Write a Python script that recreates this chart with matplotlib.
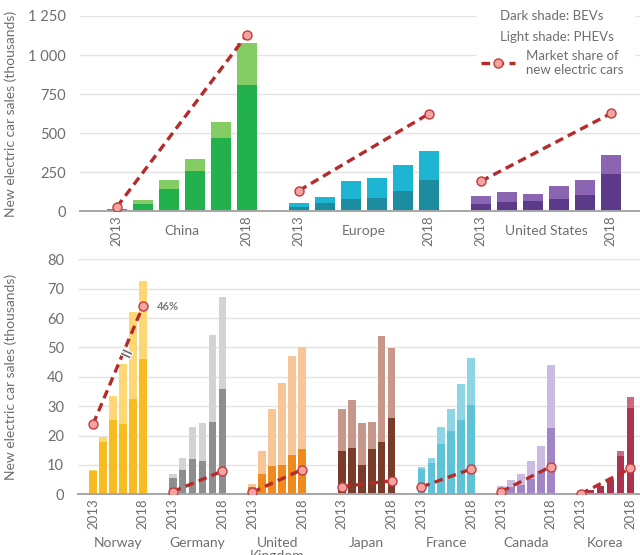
import matplotlib
matplotlib.use("Agg")
import matplotlib.pyplot as plt
from matplotlib.lines import Line2D
from matplotlib.patches import Rectangle
import matplotlib.patheffects as pe
import numpy as np

plt.rcParams['font.family'] = ['Lato', 'DejaVu Sans']

years = ["2013", "2014", "2015", "2016", "2017", "2018"]

# top panel: big markets (thousands)
top_regions = ["China", "Europe", "United States"]
top_bev = [
    [14, 47, 145, 257, 468, 810],
    [29, 53, 81, 85, 132, 200],
    [45, 60, 66, 81, 103, 237],
]
top_total = [
    [17, 70, 203, 335, 572, 1075],
    [55, 92, 192, 211, 295, 385],
    [98, 122, 113, 164, 199, 359],
]
# market share line, read in axis units (2013, 2018)
top_share = [[28, 1130], [132, 624], [192, 626]]
top_dark = ["#22b14c", "#1c8ca0", "#5c3a8a"]
top_light = ["#84cc64", "#1eb5d3", "#8b65b2"]

# bottom panel: smaller markets (thousands)
bot_regions = ["Norway", "Germany", "United\nKingdom", "Japan", "France", "Canada", "Korea"]
bot_bev = [
    [7.9, 17.9, 25.3, 23.9, 32.6, 45.9],
    [5.4, 8.4, 12.0, 11.2, 24.6, 35.7],
    [2.5, 6.8, 9.6, 10.1, 13.5, 15.4],
    [14.6, 15.7, 10.1, 15.4, 17.9, 26.1],
    [8.6, 10.6, 17.1, 21.6, 25.4, 30.3],
    [1.3, 2.5, 3.0, 5.2, 8.0, 22.4],
    [0.7, 1.3, 2.8, 5.0, 13.1, 29.5],
]
bot_total = [
    [8.2, 19.6, 33.4, 44.5, 62.1, 72.6],
    [6.8, 12.5, 22.8, 24.4, 54.2, 67.3],
    [3.6, 14.7, 29.2, 37.8, 47.1, 50.0],
    [28.9, 32.1, 24.4, 24.7, 53.8, 49.8],
    [9.3, 12.5, 22.8, 29.2, 37.4, 46.4],
    [2.8, 4.9, 6.8, 11.2, 16.5, 44.0],
    [0.8, 1.5, 2.8, 5.2, 14.7, 33.2],
]
bot_share = [[23.9, 64.0], [0.9, 7.9], [0.7, 8.4], [2.6, 4.6],
             [2.5, 8.6], [0.9, 9.4], [0.1, 8.8]]
bot_dark = ["#f8bb22", "#8e8e8e", "#ef8b1e", "#7b3b2b", "#5fc3d7", "#a185c6", "#a9344f"]
bot_light = ["#fcd774", "#d3d3d3", "#f7c697", "#c7978a", "#8ed5e5", "#ccbbe0", "#c9687f"]

GRAY = "#6e6e6e"
LINE_RED = "#b52a2a"
MARK_FACE = "#f4a3a3"
MARK_EDGE = "#c23b3b"


def draw_panel(ax, regions, bev, total, share, dark, light, starts, width, name_off):
    ticks, ticklabels = [], []
    for i, reg in enumerate(regions):
        x = starts[i] + np.arange(len(years))
        b = np.array(bev[i])
        t = np.array(total[i])
        ax.bar(x, b, width=width, color=dark[i], zorder=2)
        ax.bar(x, t - b, bottom=b, width=width, color=light[i], zorder=2)
        ax.plot([x[0], x[-1]], share[i], color=LINE_RED, lw=2.4, dashes=(2.6, 1.6),
                marker='o', ms=6.5, mfc=MARK_FACE, mec=MARK_EDGE, mew=1.0, zorder=4)
        ticks += [x[0], x[-1]]
        ticklabels += [years[0], years[-1]]
        ax.annotate(reg, xy=(x.mean(), 0), xycoords=('data', 'axes fraction'),
                    xytext=(0, -name_off), textcoords='offset points',
                    ha='center', va='top', fontsize=10, color=GRAY,
                    linespacing=1.1, annotation_clip=False)
    ax.set_xticks(ticks)
    ax.set_xticklabels(ticklabels, rotation=90, fontsize=9.5, color=GRAY)
    ax.tick_params(axis='both', length=0, labelcolor=GRAY)
    ax.tick_params(axis='y', labelsize=10.5, pad=10)
    ax.tick_params(axis='x', pad=3)
    for s in ['top', 'right', 'left']:
        ax.spines[s].set_visible(False)
    ax.spines['bottom'].set_color("#a6a6a6")
    ax.spines['bottom'].set_linewidth(1.4)
    ax.spines['bottom'].set_zorder(3)
    ax.yaxis.grid(True, color="#e3e3e3", lw=1.0, zorder=0)
    ax.set_axisbelow(True)
    ax.set_ylabel("New electric car sales (thousands)", fontsize=10, color=GRAY)


fig = plt.figure(figsize=(6.4, 5.55), dpi=100)

ax1 = fig.add_axes([0.125, 0.6193, 0.875, 0.3519])
draw_panel(ax1, top_regions, top_bev, top_total, top_share, top_dark, top_light,
           [0, 7, 14], 0.77, 10)
ax1.set_xlim(-1.42, 20.12)
ax1.set_ylim(0, 1250)
ax1.set_yticks([0, 250, 500, 750, 1000, 1250])
ax1.set_yticklabels(["0", "250", "500", "750", "1 000", "1 250"])
ax1.yaxis.set_label_coords(-0.1125, 0.5)

ax2 = fig.add_axes([0.122, 0.1094, 0.878, 0.4234])
draw_panel(ax2, bot_regions, bot_bev, bot_total, bot_share, bot_dark, bot_light,
           [0, 8, 16, 25, 33, 41, 49], 0.77, 31)
ax2.set_xlim(-1.51, 54.97)
ax2.set_ylim(0, 80)
ax2.set_yticks(np.arange(0, 81, 10))
ax2.yaxis.set_label_coords(-0.1085, 0.5)

# Norway: break mark and final share label
ax2.text(3.3, 47.4, "=", rotation=-25, ha='center', va='center', fontsize=17,
         color="#6a6a6a", zorder=5,
         path_effects=[pe.withStroke(linewidth=1.5, foreground='white')])
ax2.annotate("46%", xy=(5, bot_share[0][1]), xytext=(10, 0), textcoords='offset points',
             ha='left', va='center', fontsize=8, fontweight='bold', color="#7a7a7a")

# key in the top right corner
fig.add_artist(Rectangle((477 / 640, 1 - 88 / 555), (634 - 477) / 640, 88 / 555,
                         transform=fig.transFigure, color='white', zorder=1))
fig.text(500 / 640, 1 - 16 / 555, "Dark shade: BEVs", ha='left', va='center',
         fontsize=9.5, color=GRAY, zorder=3)
fig.text(500 / 640, 1 - 37 / 555, "Light shade: PHEVs", ha='left', va='center',
         fontsize=9.5, color=GRAY, zorder=3)
h = Line2D([], [], color=LINE_RED, lw=2.4, dashes=(2.6, 1.6), marker='o', ms=6.5,
           mfc=MARK_FACE, mec=MARK_EDGE, mew=1.0)
leg = fig.legend([h], ["Market share of\nnew electric cars"], loc='upper left',
                 bbox_to_anchor=(481 / 640, 1 - 50 / 555), frameon=False,
                 handlelength=2.6, handletextpad=0.8, borderpad=0, borderaxespad=0,
                 fontsize=9.5, labelcolor=GRAY)
leg.set_zorder(3)

fig.savefig("out.png", dpi=100)
